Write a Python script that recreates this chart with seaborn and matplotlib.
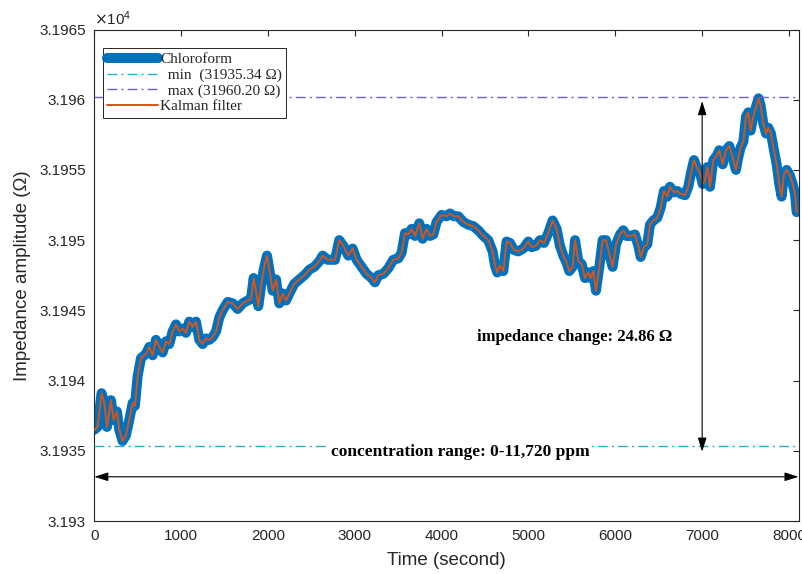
import matplotlib
matplotlib.use("Agg")
import matplotlib.pyplot as plt
import matplotlib.ticker as mticker
import seaborn as sns
import pandas as pd

# ---------------- data ----------------
time_s = [0, 38, 84, 115, 146, 192, 223, 261, 288, 326, 365, 403, 442, 468, 499, 538, 595, 634, 672, 710,
          749, 787, 826, 864, 902, 941, 979, 1018, 1056, 1094, 1133, 1171, 1210, 1248, 1286, 1325, 1363, 1402,
          1440, 1478, 1536, 1594, 1651, 1709, 1766, 1805, 1835, 1862, 1889, 1920, 1951, 1989, 2016, 2054, 2093,
          2131, 2170, 2208, 2246, 2304, 2362, 2419, 2477, 2534, 2592, 2630, 2688,
          2772, 2821, 2868, 2925, 2975, 3021, 3079, 3136, 3194, 3232, 3270, 3328, 3386, 3443, 3501, 3539, 3578,
          3616, 3654, 3693, 3743, 3781, 3827, 3865, 3904, 3942, 4000, 4057, 4096, 4142, 4192, 4249, 4307, 4364,
          4422, 4480, 4537, 4587, 4614, 4641, 4671, 4710, 4748, 4787, 4833, 4882, 4940, 4998, 5036, 5086, 5132,
          5178, 5228, 5278, 5324, 5362, 5401, 5439, 5470,
          5509, 5536, 5574, 5612, 5651, 5689, 5716, 5747, 5777, 5816, 5854, 5893, 5931, 5969, 6008, 6054, 6092,
          6130, 6177, 6226, 6265, 6292, 6330, 6368, 6399, 6438, 6484, 6522, 6560, 6599, 6629, 6676, 6714, 6752,
          6802, 6840, 6879, 6906, 6936, 6975, 7006, 7032, 7059, 7090, 7128, 7167, 7197, 7236, 7274, 7313, 7351,
          7389, 7416, 7443, 7474, 7505, 7531, 7558, 7589, 7620, 7650, 7673, 7704, 7735, 7762, 7792, 7827, 7858,
          7888, 7915, 7942, 7973, 8011, 8042, 8069, 8088]

impedance = [31936.5, 31936.7, 31939.1, 31938.4, 31936.7, 31938.6, 31937.2, 31937.8, 31936.5, 31935.7,
             31936.1, 31937.2, 31938.4, 31938.2, 31940.3, 31941.6, 31941.9, 31942.4, 31941.8, 31942.9,
             31942.4, 31942.0, 31942.8, 31942.6, 31943.5, 31944.0, 31943.5, 31943.7, 31943.4, 31944.2,
             31943.8, 31944.2, 31942.9, 31942.6, 31943.0, 31942.9, 31943.1, 31943.5, 31944.5, 31945.0,
             31945.6, 31945.5, 31945.1, 31945.5, 31945.7, 31945.8, 31947.3, 31946.4, 31945.3, 31946.7,
             31947.9, 31948.9, 31947.9, 31946.4, 31947.2, 31945.5, 31946.2, 31945.7, 31946.2, 31946.9,
             31947.2, 31947.5, 31947.9, 31948.1, 31948.5, 31948.9, 31948.6,
             31948.6, 31950.0, 31949.6, 31948.9, 31949.4, 31948.6, 31948.1, 31947.6, 31947.3, 31947.0,
             31947.5, 31947.6, 31948.0, 31948.6, 31948.7, 31949.1, 31950.5, 31950.4, 31950.8, 31950.3,
             31951.2, 31950.1, 31950.8, 31950.3, 31950.4, 31951.3, 31951.8, 31951.7, 31951.9, 31951.7,
             31951.7, 31951.3, 31951.1, 31951.0, 31950.7, 31950.3, 31950.0, 31949.2, 31948.2, 31947.7,
             31948.2, 31947.8, 31949.9, 31949.8, 31949.3, 31949.2, 31949.4, 31949.9, 31949.5, 31949.6,
             31950.0, 31949.8, 31950.5, 31951.4, 31950.8, 31949.6, 31948.9, 31948.4, 31947.8,
             31948.1, 31950.0, 31948.5, 31948.3, 31947.3, 31947.7, 31947.3, 31947.8, 31946.4, 31948.1,
             31950.0, 31950.0, 31949.0, 31948.1, 31949.7, 31950.4, 31950.7, 31950.3, 31950.3, 31950.4,
             31949.6, 31948.8, 31949.5, 31949.7, 31951.1, 31951.4, 31951.6, 31952.3, 31953.5, 31953.1,
             31953.8, 31953.4, 31953.5, 31953.3, 31953.2, 31953.8, 31955.0, 31955.7, 31955.2, 31954.8,
             31954.0, 31954.2, 31955.2, 31953.8, 31955.7, 31956.0, 31956.4, 31955.4, 31956.4, 31956.7,
             31955.9, 31955.0, 31955.9, 31956.6, 31957.0, 31958.8, 31959.1, 31957.8, 31958.8, 31959.5,
             31960.1, 31959.6, 31958.3, 31957.6, 31958.0, 31957.6, 31956.4, 31955.4, 31954.0, 31953.1,
             31954.7, 31955.0, 31954.6, 31954.0, 31953.3, 31952.0]

min_value = 31935.34
max_value = 31960.20
change_value = 24.86
arrow_time = 7000
range_arrow_level = 31933.15
series_names = ["Chloroform", "Kalman filter"]
x_ticks = [0, 1000, 2000, 3000, 4000, 5000, 6000, 7000, 8000]
y_ticks = [31930, 31935, 31940, 31945, 31950, 31955, 31960, 31965]

df = pd.DataFrame({"time": time_s, "impedance": impedance})

# ---------------- style ----------------
sns.set_theme(style="white")
plt.rcParams["font.family"] = ["Liberation Sans", "DejaVu Sans"]
plt.rcParams["axes.edgecolor"] = "#262626"
plt.rcParams["axes.linewidth"] = 0.8

BLUE = "#0072BD"
ORANGE = "#D95319"
CYAN = "#1FB5C5"
PURPLE = "#6F5FD0"
TXT = "#262626"
SERIF = ["Liberation Serif", "DejaVu Serif"]

fig = plt.figure(figsize=(8.03, 5.74), dpi=100)
ax = fig.add_axes([0.1174, 0.0923, 0.8776, 0.8563])

sns.lineplot(data=df, x="time", y="impedance", ax=ax, color=BLUE, linewidth=7.2,
             estimator=None, sort=False, label=series_names[0], zorder=2)
ax.axhline(min_value, color=CYAN, linewidth=1.0, linestyle=(0, (7, 3, 1.5, 3)),
           label="  min  (31935.34 \u03a9)", zorder=3)
ax.axhline(max_value, color=PURPLE, linewidth=1.0, linestyle=(0, (7, 3, 1.5, 3)),
           label="  max (31960.20 \u03a9)", zorder=3)
sns.lineplot(data=df, x="time", y="impedance", ax=ax, color=ORANGE, linewidth=1.4,
             estimator=None, sort=False, label=series_names[1], zorder=4)

ax.set_xlim(0, 8115)
ax.set_ylim(31930, 31965)
ax.set_xticks(x_ticks)
ax.set_yticks(y_ticks)
ax.yaxis.set_major_formatter(mticker.FuncFormatter(lambda v, p: f"{v / 1e4:.5g}"))
ax.tick_params(axis="both", which="both", direction="in", length=4, width=0.8,
               top=True, right=True, labelsize=11, labelcolor=TXT, color=TXT, pad=6)
for s in ax.spines.values():
    s.set_visible(True)
    s.set_color(TXT)
    s.set_linewidth(0.8)

ax.set_xlabel("Time (second)", fontsize=13.5, color=TXT, labelpad=6)
ax.set_ylabel("Impedance amplitude (\u03a9)", fontsize=13.5, color=TXT, labelpad=6)
ax.text(0.0, 1.004, r"$\times\mathregular{10^{4}}$", transform=ax.transAxes, ha="left", va="bottom",
        fontsize=11, color=TXT)

# arrows
ax.annotate("", xy=(arrow_time, max_value - 0.3), xytext=(arrow_time, min_value - 0.4),
            arrowprops=dict(arrowstyle="<|-|>,head_length=0.7,head_width=0.22", color="black",
                            lw=0.8, shrinkA=0, shrinkB=0), zorder=5)
ax.annotate("", xy=(8110, range_arrow_level), xytext=(0, range_arrow_level),
            arrowprops=dict(arrowstyle="<|-|>,head_length=0.7,head_width=0.22", color="black",
                            lw=0.8, shrinkA=0, shrinkB=0), zorder=5)

ax.text(5536, 31943.1, f"impedance change: {change_value:.2f} \u03a9", ha="center", va="center",
        fontsize=12, fontweight="bold", family=SERIF, color="black", zorder=6)
ax.text(4211, 31934.95, "concentration range: 0-11,720 ppm", ha="center", va="center",
        fontsize=12.5, fontweight="bold", family=SERIF, color="black", zorder=6,
        bbox=dict(facecolor="white", edgecolor="none", pad=0.5))

leg = ax.legend(loc="upper left", bbox_to_anchor=(0.012, 0.962), borderaxespad=0,
                prop={"family": SERIF, "size": 11}, handlelength=3.3, handletextpad=0.15,
                labelspacing=0.12, borderpad=0.3, fancybox=False, framealpha=1,
                edgecolor=TXT)
leg.get_frame().set_linewidth(0.7)
leg.set_zorder(10)

fig.savefig("out.png", dpi=100)
